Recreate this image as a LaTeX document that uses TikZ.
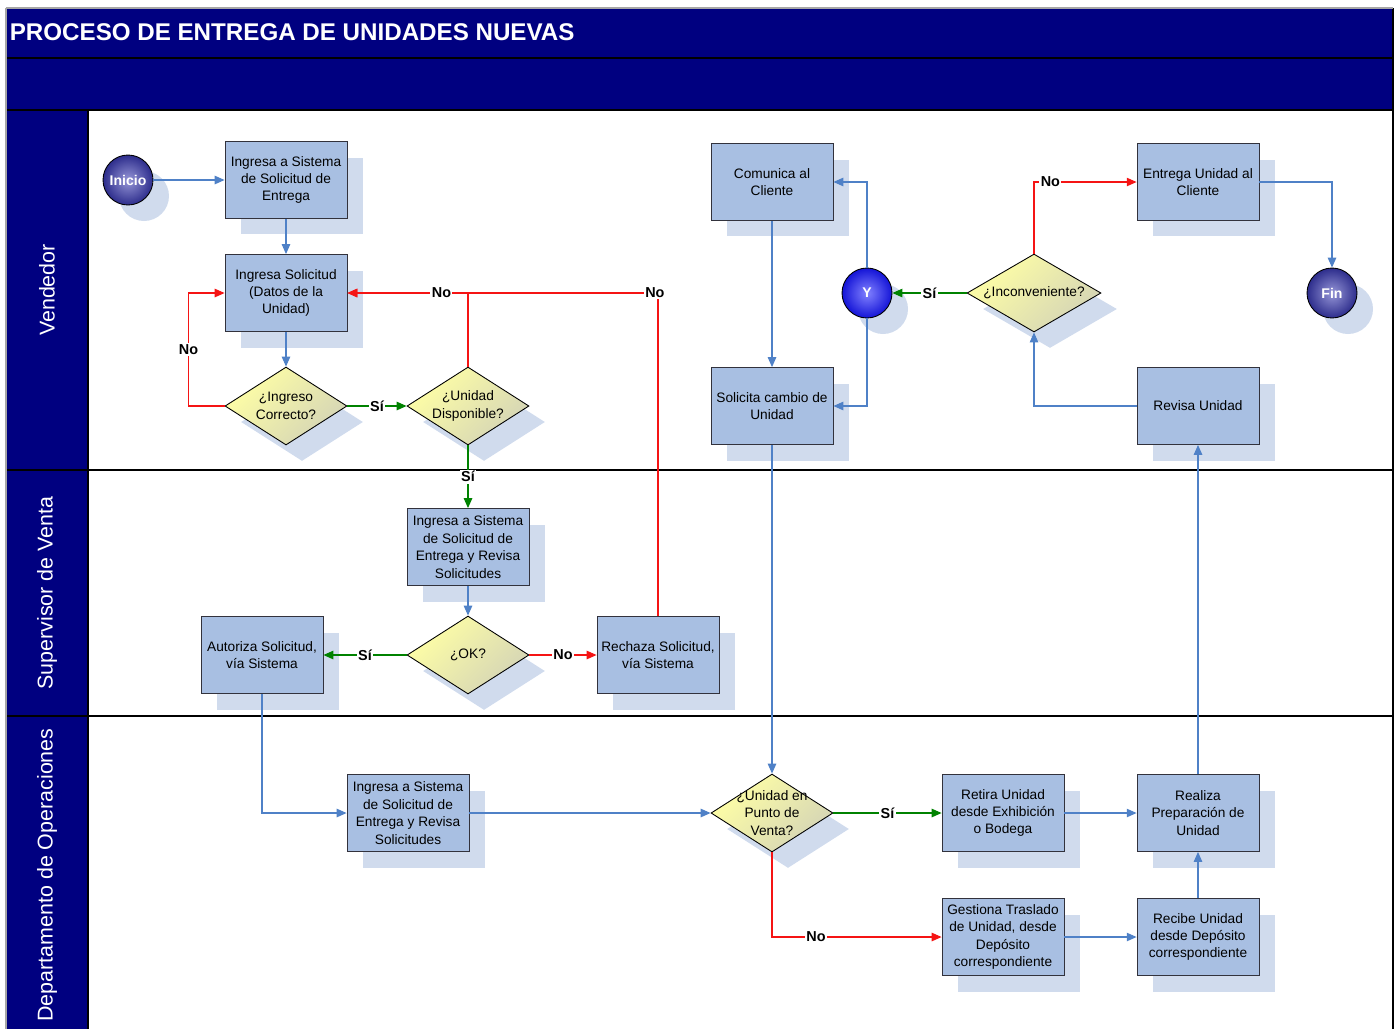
\documentclass[tikz,border=0pt]{standalone}
\usepackage{fontspec}
\setmainfont{Liberation Sans}
\usetikzlibrary{shapes.geometric,arrows.meta,shadows}

\definecolor{hdr}{RGB}{0,0,128}
\definecolor{boxc}{RGB}{168,191,226}
\definecolor{shadowc}{RGB}{208,219,237}
\definecolor{dtop}{RGB}{255,255,165}
\definecolor{dbot}{RGB}{212,212,182}
\definecolor{linkb}{RGB}{79,129,199}
\definecolor{linkr}{RGB}{245,20,20}
\definecolor{linkg}{RGB}{0,130,0}
\definecolor{cirout}{RGB}{45,45,140}
\definecolor{cirin}{RGB}{150,150,215}
\definecolor{yout}{RGB}{20,20,215}
\definecolor{yin}{RGB}{130,130,255}

\tikzset{
  sh/.style={general shadow={fill=shadowc, shadow xshift=0.32cm, shadow yshift=-0.32cm}},
  procbox/.style={sh, rectangle, draw={rgb,255:red,50;green,50;blue,60}, line width=0.5pt,
    fill=boxc, minimum width=2.44cm, minimum height=1.54cm, inner sep=1pt,
    align=center, font=\fontsize{7.8}{9.9}\selectfont},
  dia/.style={sh, diamond, draw=black, line width=0.5pt, top color=dtop, bottom color=dbot,
    shading angle=45, minimum width=2.44cm, minimum height=1.56cm, inner sep=0pt},
  widedia/.style={dia, minimum width=2.68cm},
  dtext/.style={align=center, inner sep=0pt, font=\fontsize{7.8}{9.9}\selectfont},
  term/.style={sh, circle, draw=black, line width=0.5pt, minimum size=1cm, inner sep=0pt,
    inner color=cirin, outer color=cirout, text=white, font=\bfseries\fontsize{8}{9}\selectfont},
  joint/.style={term, inner color=yin, outer color=yout},
  lanelab/.style={rotate=90, text=white, font=\fontsize{12.2}{14}\selectfont, inner sep=0pt},
  tip/.style={-{Triangle[length=5.6pt,width=4.8pt]}},
  blu/.style={tip, draw=linkb, line width=0.6pt},
  rdl/.style={tip, draw=linkr, line width=0.6pt},
  grn/.style={tip, draw=linkg, line width=0.6pt},
  lab/.style={fill=white, inner sep=0.8pt, font=\bfseries\fontsize{8.2}{9}\selectfont},
  sep/.style={draw=black, line width=0.7pt}
}

\begin{document}
\begin{tikzpicture}[x=0.02cm, y=-0.02cm]
\useasboundingbox (0,0) rectangle (1399,1029);

% header bands and lane column
\fill[hdr] (6,8) rectangle (1393,110);
\fill[hdr] (6,110) rectangle (88,1029);
\draw[sep] (6,58) -- (1393,58);
\draw[sep] (6,110) -- (1393,110);
\draw[sep] (6,470) -- (1393,470);
\draw[sep] (6,716) -- (1393,716);
\draw[sep] (88,110) -- (88,1029);
\draw[sep] (1393,8) -- (1393,1029);
\draw[gray!70, line width=0.6pt] (6,8) -- (1393,8);
\draw[gray!70, line width=0.6pt] (6,8) -- (6,1029);

\node[anchor=west, inner sep=0pt, text=white, font=\bfseries\fontsize{13.75}{16}\selectfont]
  (title) at (9.5,32.5) {PROCESO DE ENTREGA DE UNIDADES NUEVAS};

% lane titles
\node[lanelab] (lane1) at (47,290) {Vendedor};
\node[lanelab] (lane2) at (47,593) {Supervisor de Venta};
\node[lanelab] (lane3) at (47,875) {Departamento de Operaciones};

% Vendedor lane
\node[term] (ini) at (128,180) {Inicio};
\node[procbox] (b1) at (286,180) {Ingresa a Sistema\\de Solicitud de\\Entrega};
\node[procbox] (b2) at (286,293) {Ingresa Solicitud\\(Datos de la\\Unidad)};
\node[dia, label={[dtext]center:{¿Ingreso\\Correcto?}}] (d1) at (286,406) {};
\node[dia, label={[dtext]center:{¿Unidad\\Disponible?}}] (d2) at (468,406) {};
\node[procbox] (b12) at (772,182) {Comunica al\\Cliente};
\node[procbox] (b13) at (772,406) {Solicita cambio de\\Unidad};
\node[joint] (yj) at (867,293) {Y};
\node[widedia, label={[dtext]center:{¿Inconveniente?}}] (d5) at (1034,293) {};
\node[procbox] (b14) at (1198,182) {Entrega Unidad al\\Cliente};
\node[procbox] (b11) at (1198,406) {Revisa Unidad};
\node[term] (fin) at (1332,293) {Fin};

% Supervisor lane
\node[procbox] (b3) at (468,547) {Ingresa a Sistema\\de Solicitud de\\Entrega y Revisa\\Solicitudes};
\node[dia, label={[dtext]center:{¿OK?}}] (d3) at (468,655) {};
\node[procbox] (b4) at (262,655) {Autoriza Solicitud,\\vía Sistema};
\node[procbox] (b5) at (658,655) {Rechaza Solicitud,\\vía Sistema};

% Operaciones lane
\node[procbox] (b6) at (408,813) {Ingresa a Sistema\\de Solicitud de\\Entrega y Revisa\\Solicitudes};
\node[dia, label={[dtext]center:{¿Unidad en\\Punto de\\Venta?}}] (d4) at (772,813) {};
\node[procbox] (b7) at (1003,813) {Retira Unidad\\desde Exhibición\\o Bodega};
\node[procbox] (b8) at (1198,813) {Realiza\\Preparación de\\Unidad};
\node[procbox] (b9) at (1003,937) {Gestiona Traslado\\de Unidad, desde\\Depósito\\correspondiente};
\node[procbox] (b10) at (1198,937) {Recibe Unidad\\desde Depósito\\correspondiente};

% connectors
\draw[blu] (ini) -- (b1);
\draw[blu] (b1) -- (b2);
\draw[blu] (b2) -- (d1);
\draw[rdl] (d1.west) -- ++(-36,0) |- node[lab, pos=0.25] {No} (b2.west);
\draw[grn] (d1) -- node[lab] {Sí} (d2);
\draw[rdl] (b5.north) |- node[lab, pos=0.505] {No} (b2.east);
\draw[rdl] (d2.north) |- node[lab, pos=0.61] {No} (b2.east);
\draw[grn] (d2) -- node[lab] {Sí} (b3);
\draw[blu] (b3) -- (d3);
\draw[grn] (d3) -- node[lab] {Sí} (b4);
\draw[rdl] (d3) -- node[lab] {No} (b5);
\draw[blu] (b4.south) |- (b6.west);
\draw[blu] (b6) -- (d4);
\draw[grn] (d4) -- node[lab] {Sí} (b7);
\draw[rdl] (d4.south) |- node[lab, pos=0.63] {No} (b9.west);
\draw[blu] (b7) -- (b8);
\draw[blu] (b9) -- (b10);
\draw[blu] (b10) -- (b8);
\draw[blu] (b8) -- (b11);
\draw[blu] (b11.west) -| (d5.south);
\draw[grn] (d5) -- node[lab] {Sí} (yj);
\draw[blu] (yj.north) |- (b12.east);
\draw[blu] (yj.south) |- (b13.east);
\draw[blu] (b12) -- (b13);
\draw[blu] (b13) -- (d4);
\draw[rdl] (d5.north) |- node[lab, pos=0.58] {No} (b14.west);
\draw[blu] (b14.east) -| (fin.north);
\end{tikzpicture}
\end{document}
